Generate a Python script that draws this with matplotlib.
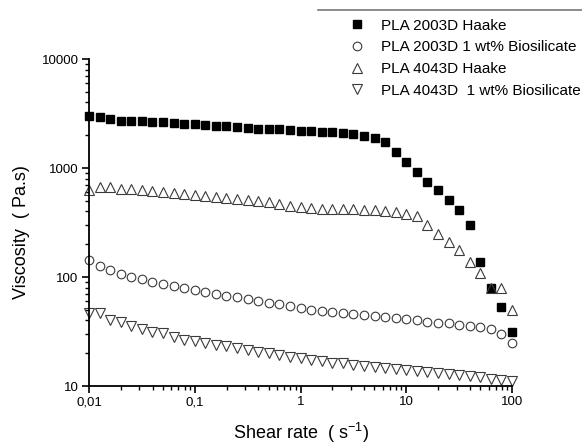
import matplotlib
matplotlib.use('Agg')
import matplotlib.pyplot as plt
import numpy as np
from matplotlib.lines import Line2D
from matplotlib.ticker import FixedLocator, FuncFormatter, LogLocator, NullFormatter

plt.rcParams['font.family'] = ['Liberation Sans', 'DejaVu Sans']

# shear rate, 10 points per decade from 0.01 to 100 s^-1
shear_rate = 10 ** (np.arange(41) / 10.0 - 2)

pla2003_haake = [3000, 2960, 2820, 2720, 2680, 2680, 2640, 2620, 2590, 2550,
                 2530, 2500, 2440, 2430, 2380, 2340, 2300, 2280, 2260, 2250,
                 2200, 2170, 2130, 2120, 2090, 2050, 1980, 1900, 1720, 1410,
                 1140, 920, 750, 630, 510, 410, 300, 138, 80, 53, 31]
pla2003_bio = [143, 125, 115, 106, 100, 95, 90, 86, 82, 79,
               76, 73, 70, 67, 65, 63, 60, 58, 56, 54,
               52, 50, 49, 48, 47, 46, 45, 44, 43, 42,
               41, 40, 39, 38, 37.5, 36.5, 35.5, 34.5, 33, 30, 25]
pla4043_haake = [630, 665, 665, 645, 640, 630, 620, 605, 590, 577,
                 565, 557, 546, 531, 520, 509, 495, 484, 468, 451,
                 440, 430, 425, 420, 420, 418, 416, 412, 405, 395,
                 378, 363, 300, 247, 211, 177, 138, 108, 80, 80, 50]
pla4043_bio = [46.5, 46.5, 40, 39, 35.5, 33, 31.5, 30.4, 28.3, 26.4,
               26, 24.6, 23.8, 23.3, 22.2, 21.4, 20.6, 19.9, 19.2, 18.6,
               17.9, 17.5, 16.9, 16.4, 16.1, 15.6, 15.2, 14.9, 14.6, 14.3,
               14.0, 13.7, 13.5, 13.2, 12.9, 12.6, 12.3, 12.0, 11.7, 11.4, 11.2]

labels = ['PLA 2003D Haake', 'PLA 2003D 1 wt% Biosilicate',
          'PLA 4043D Haake', 'PLA 4043D  1 wt% Biosilicate']
x_ticks = [0.01, 0.1, 1, 10, 100]
x_tick_labels = ['0,01', '0,1', '1', '10', '100']
y_ticks = [10, 100, 1000, 10000]

fig = plt.figure(figsize=(5.82, 4.48), dpi=100)
ax = fig.add_axes([89 / 582, 1 - 386 / 448, (512 - 89) / 582, (386 - 59) / 448])

edge = '#3a3a3a'
ax.plot(shear_rate, pla2003_haake, 's', ms=6, color='black', clip_on=False, label=labels[0])
ax.plot(shear_rate, pla2003_bio, 'o', ms=6.2, mfc='none', mec=edge, mew=0.8, clip_on=False, label=labels[1])
ax.plot(shear_rate, pla4043_haake, '^', ms=6.8, mfc='none', mec=edge, mew=0.8, clip_on=False, label=labels[2])
ax.plot(shear_rate, pla4043_bio, 'v', ms=6.8, mfc='none', mec=edge, mew=0.8, clip_on=False, label=labels[3])

ax.set_xscale('log')
ax.set_yscale('log')
ax.set_xlim(0.01, 100)
ax.set_ylim(10, 10000)

ax.xaxis.set_major_locator(FixedLocator(x_ticks))
ax.xaxis.set_major_formatter(FuncFormatter(lambda v, p: x_tick_labels[x_ticks.index(v)] if v in x_ticks else ''))
ax.yaxis.set_major_locator(FixedLocator(y_ticks))
ax.yaxis.set_major_formatter(FuncFormatter(lambda v, p: '%d' % v))
for a in (ax.xaxis, ax.yaxis):
    a.set_minor_locator(LogLocator(base=10, subs=np.arange(2, 10)))
    a.set_minor_formatter(NullFormatter())

for s in ('top', 'right'):
    ax.spines[s].set_visible(False)
for s in ('left', 'bottom'):
    ax.spines[s].set_linewidth(1.3)
ax.tick_params(which='major', direction='out', length=5, width=1.2, labelsize=9.5, pad=2.5)
ax.tick_params(which='minor', direction='out', length=3, width=1)

ax.set_xlabel('Shear rate  ( s$^{\\mathregular{-1}}$)', fontsize=13, labelpad=9)
ax.set_ylabel('Viscosity  ( Pa.s)', fontsize=13)
ax.yaxis.set_label_coords(-0.14, 0.47)

ax.legend(loc='upper left', bbox_to_anchor=(340 / 582, 1 - 11 / 448),
          bbox_transform=fig.transFigure, frameon=False, fontsize=11,
          handlelength=1.2, handletextpad=1.0, labelspacing=0.5, borderpad=0)

# top border of the original legend box
fig.add_artist(Line2D([318 / 582, 1.0], [1 - 10 / 448, 1 - 10 / 448],
                      transform=fig.transFigure, color='#777777', lw=1.2))

fig.savefig('out.png', dpi=100)
